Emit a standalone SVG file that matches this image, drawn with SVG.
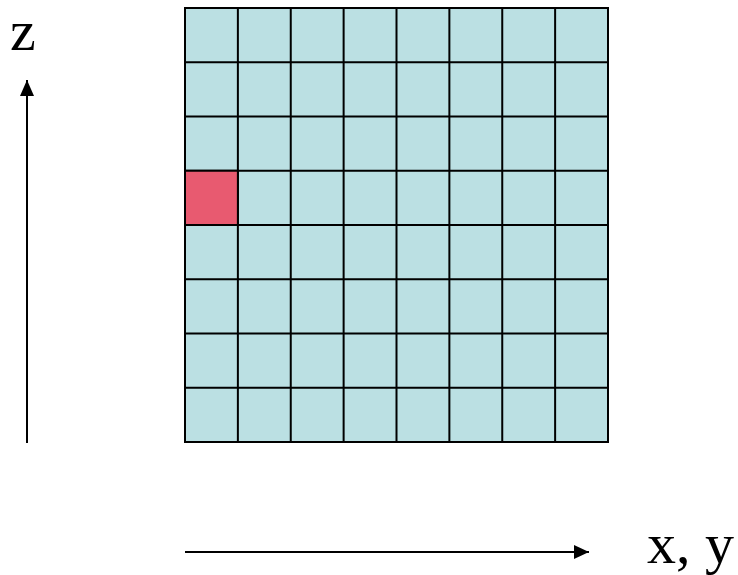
<svg xmlns="http://www.w3.org/2000/svg" width="738" height="575" viewBox="0 0 738 575">
<defs>
<style>
.cell{fill:#BBE0E3;stroke:#000;stroke-width:2}
.red{fill:#E85A70;stroke:#000;stroke-width:2}
.ax{stroke:#000;stroke-width:2;fill:none}
.lbl{font-family:"Liberation Serif",serif;font-size:58px;fill:#000}
</style>
</defs>
<rect width="738" height="575" fill="#fff"/>
<g id="grid">
<rect class="cell" x="185" y="8" width="423" height="434"/>
<path class="ax" d="M237.875,8V442M290.75,8V442M343.625,8V442M396.5,8V442M449.375,8V442M502.25,8V442M555.125,8V442M185,62.25H608M185,116.5H608M185,170.75H608M185,225H608M185,279.25H608M185,333.5H608M185,387.75H608"/>
<rect id="highlight" class="red" x="185" y="170.75" width="52.875" height="54.25"/>
<rect x="185" y="8" width="423" height="434" fill="none" stroke="#000" stroke-width="2"/>
</g>
<g id="connectors">
<path d="M27,443V80" class="ax"/>
<path d="M20,96L27,80L34,96z" fill="#000"/>
<path d="M185,552H589" class="ax"/>
<path d="M574,545L589,552L574,559z" fill="#000"/>
</g>
<g id="labels">
<text class="lbl" x="10" y="50">z</text>
<text class="lbl" x="647" y="563">x, y</text>
</g>
</svg>
